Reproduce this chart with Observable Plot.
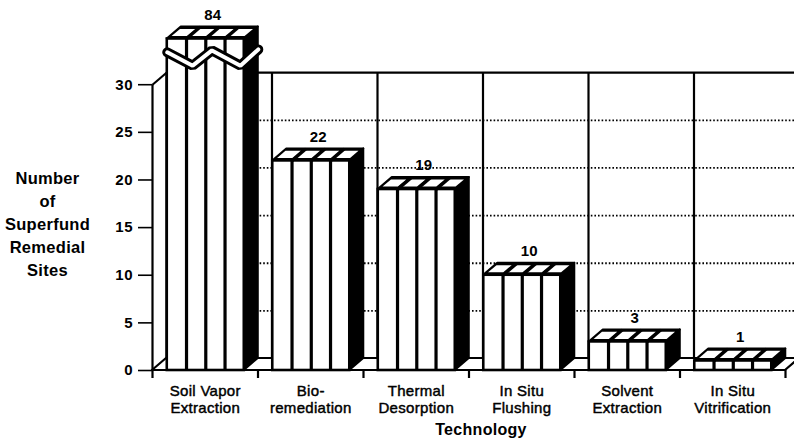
<!DOCTYPE html>
<html>
<head>
<meta charset="utf-8">
<script src="https://cdn.jsdelivr.net/npm/d3@7"></script>
<script src="https://cdn.jsdelivr.net/npm/@observablehq/plot@0.6"></script>
<style>
  html, body { margin: 0; padding: 0; background: #fff; }
  #chart { width: 794px; height: 442px; overflow: hidden; }
  #chart svg g[aria-label="y-axis tick label"] text { letter-spacing: 0.8px; }
  #chart svg g[aria-label="text"] text { letter-spacing: 0.3px; }
</style>
</head>
<body>
<div id="chart"></div>
<script>
// ---- data ----
const categories = ["Soil Vapor\nExtraction", "Bio-\nremediation", "Thermal\nDesorption", "In Situ\nFlushing", "Solvent\nExtraction", "In Situ\nVitrification"];
const sites = [84, 22, 19, 10, 3, 1];
const yTicks = [0, 5, 10, 15, 20, 25, 30];
const gridValues = [5, 10, 15, 20, 25];
const axisTop = 30;          // last labelled value of the value axis
const breakHeight = 34.8;    // drawn height for values beyond the axis (broken bar)
const yTitle = "Number\nof\nSuperfund\nRemedial\nSites";
const xTitle = "Technology";

// ---- layout ----
const W = 794, H = 442, ML = 152, MR = 9, MT = 8, MB = 72;
const nCat = categories.length;
const yMax = 38;
const depthPxX = 14, depthPxY = 12;
const ddx = depthPxX * nCat / (W - ML - MR);
const ddy = depthPxY * yMax / (H - MT - MB);
const pxX = nCat / (W - ML - MR);

const bars = categories.map((c, i) => ({
  i, c, v: sites[i],
  h: Math.min(sites[i], breakHeight),
  x0: i + 0.14, x1: i + 0.87
}));

// side faces (vertical parallelograms)
const sidePts = bars.flatMap(b => [
  {z: b.i, x: b.x1, y1: 0, y2: b.h},
  {z: b.i, x: b.x1 + ddx, y1: ddy, y2: b.h + ddy}
]);
// top faces (sheared parallelograms)
const topPts = bars.flatMap(b => [
  {z: b.i, x: b.x0, y1: b.h, y2: b.h},
  {z: b.i, x: b.x0 + ddx, y1: b.h, y2: b.h + ddy},
  {z: b.i, x: b.x1, y1: b.h, y2: b.h + ddy},
  {z: b.i, x: b.x1 + ddx, y1: b.h + ddy, y2: b.h + ddy}
]);
// white stripes on the top faces
const g = 2 * pxX, f0 = 0.2, f1 = 0.8;
const stripePts = bars.flatMap(b => {
  const w = (b.x1 - b.x0) / 4;
  return d3.range(4).flatMap(k => {
    const a = b.x0 + k * w + g, e = b.x0 + (k + 1) * w - g;
    const yf = b.h + f0 * ddy, yb = b.h + f1 * ddy;
    const z = b.i * 10 + k;
    return [
      {z, x: a + f0 * ddx, y1: yf, y2: yf},
      {z, x: a + f1 * ddx, y1: yf, y2: yb},
      {z, x: e + f0 * ddx, y1: yf, y2: yb},
      {z, x: e + f1 * ddx, y1: yb, y2: yb}
    ];
  });
});
// front-face dividers
const dividers = bars.flatMap(b => {
  const w = (b.x1 - b.x0) / 4;
  return [1, 2, 3].map(k => ({x: b.x0 + k * w, h: b.h}));
});
// top-face dividers (slanted)
const topDividers = bars.flatMap(b => {
  const w = (b.x1 - b.x0) / 4;
  return [1, 2, 3].map(k => ({x1: b.x0 + k * w, x2: b.x0 + k * w + ddx, y1: b.h, y2: b.h + ddy}));
});
// floor slab
const floorPts = [
  {x: 0, y1: 0, y2: 0},
  {x: ddx, y1: 0, y2: ddy},
  {x: nCat, y1: 0, y2: ddy},
  {x: nCat + ddx, y1: ddy, y2: ddy}
];
// axis break zigzag on bars beyond the axis
const broken = bars.filter(b => b.v > breakHeight);
const zig = broken.flatMap(b => {
  const w = b.x1 - b.x0;
  return [
    {z: b.i, x: b.x0, y: 33.4},
    {z: b.i, x: b.x0 + 0.33 * w, y: 32.0},
    {z: b.i, x: b.x0 + 0.58 * w, y: 33.6},
    {z: b.i, x: b.x0 + 0.95 * w, y: 32.0},
    {z: b.i, x: b.x1 + ddx, y: 33.7}
  ];
});

const font = "'Liberation Sans', Arial, Helvetica, sans-serif";

const plot = Plot.plot({
  width: W, height: H,
  marginLeft: ML, marginRight: MR, marginTop: MT, marginBottom: MB,
  x: {type: "linear", domain: [0, nCat], label: null},
  y: {type: "linear", domain: [0, yMax], label: null},
  style: {fontFamily: font, color: "black", background: "white", overflow: "visible"},
  marks: [
    // back wall grid (dotted)
    Plot.ruleY(gridValues, {y: d => d + ddy, x1: ddx, x2: nCat + 2 * ddx, stroke: "black", strokeWidth: 1.8, strokeDasharray: "1.6,2"}),
    // back wall top edge
    Plot.ruleY([axisTop], {y: d => d + ddy, x1: ddx, x2: nCat + 2 * ddx, stroke: "black", strokeWidth: 2.2}),
    // back wall verticals
    Plot.ruleX(d3.range(0, nCat), {x: d => d + ddx, y1: ddy, y2: axisTop + ddy, stroke: "black", strokeWidth: 2.2}),
    // floor
    Plot.areaY(floorPts, {x: "x", y1: "y1", y2: "y2", fill: "white", stroke: "black", strokeWidth: 2.2}),
    // left edge diagonal at top of axis
    Plot.link([axisTop], {x1: 0, y1: d => d, x2: ddx, y2: d => d + ddy, stroke: "black", strokeWidth: 2.2}),
    // value axis line
    Plot.ruleX([0], {y1: 0, y2: axisTop, stroke: "black", strokeWidth: 2.2}),
    Plot.axisY({ticks: yTicks, tickSize: 14, tickPadding: 5, strokeWidth: 1.6, fontSize: 15, fontWeight: "bold", label: null}),
    // category boundary ticks
    Plot.axisX({ticks: d3.range(0, nCat + 1), tickSize: 8, tickFormat: () => "", strokeWidth: 2.2, label: null}),
    // bars: side faces
    Plot.areaY(sidePts, {x: "x", y1: "y1", y2: "y2", z: "z", fill: "black", stroke: "black", strokeWidth: 2}),
    // bars: top faces
    Plot.areaY(topPts, {x: "x", y1: "y1", y2: "y2", z: "z", fill: "black", stroke: "black", strokeWidth: 2}),
    Plot.areaY(stripePts, {x: "x", y1: "y1", y2: "y2", z: "z", fill: "white"}),
    // bars: front faces
    Plot.rectY(bars, {x1: "x0", x2: "x1", y1: 0, y2: "h", fill: "white", stroke: "black", strokeWidth: 2.6}),
    Plot.ruleX(dividers, {x: "x", y1: 0, y2: "h", stroke: "black", strokeWidth: 3.2}),
    Plot.link(topDividers, {x1: "x1", x2: "x2", y1: "y1", y2: "y2", stroke: "black", strokeWidth: 3}),
    // axis break
    Plot.line(zig, {x: "x", y: "y", z: "z", stroke: "black", strokeWidth: 10, strokeLinejoin: "miter"}),
    Plot.line(zig, {x: "x", y: "y", z: "z", stroke: "white", strokeWidth: 4, strokeLinejoin: "miter"}),
    // category labels
    Plot.text(bars, {x: d => d.i + 0.5, y: 0, text: "c", lineAnchor: "top", dy: 14, fontSize: 15,
      lineHeight: 1.1, fill: "black", stroke: "black", strokeWidth: 0.45}),
    // value labels
    Plot.text(bars, {x: d => (d.x0 + d.x1) / 2 + ddx / 2, y: d => d.h + ddy, text: d => String(d.v),
      dy: -12, fontSize: 15, fontWeight: "bold"}),
    // titles
    Plot.text([xTitle], {frameAnchor: "bottom", dx: 12, dy: 64, fontSize: 16, fontWeight: "bold"}),
    Plot.text([yTitle], {frameAnchor: "left", dx: -105, dy: 33, textAnchor: "middle", fontSize: 16.5,
      fontWeight: "bold", lineHeight: 1.4})
  ]
});
document.getElementById("chart").appendChild(plot);
</script>
</body>
</html>
